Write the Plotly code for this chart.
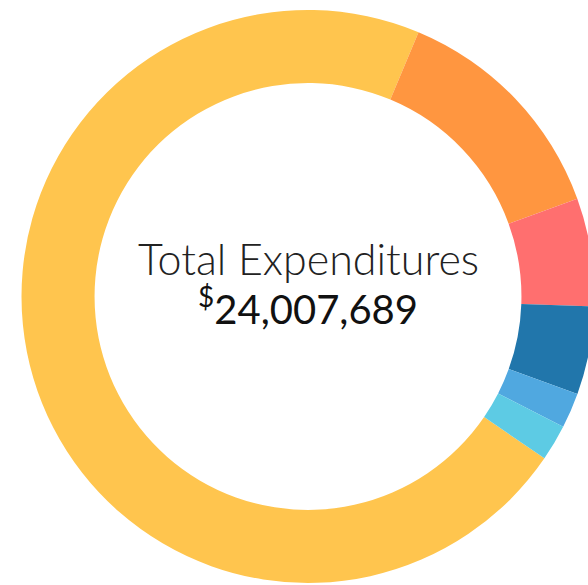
import plotly.graph_objects as go

categories = ["Category A", "Category B", "Category C", "Category D", "Category E", "Category F"]
values = [17225000, 3158000, 1464000, 1193000, 477000, 490689]
colors = ["#FFC54E", "#FF9640", "#FF6F6F", "#2176AB", "#50A8E0", "#5DCBE4"]
center_title = "Total Expenditures"
center_value = "<sup>$</sup>24,007,689"

W, H = 616, 585
fig = go.Figure(go.Pie(
    labels=categories,
    values=values,
    marker=dict(colors=colors, line=dict(width=0)),
    hole=0.745,
    sort=False,
    direction="clockwise",
    rotation=124.4,
    textinfo="none",
    hoverinfo="label+value",
    showlegend=False,
))

fig.update_layout(
    width=W, height=H, autosize=False,
    margin=dict(l=0, r=0, t=10, b=2, pad=0),
    paper_bgcolor="white", plot_bgcolor="white",
    annotations=[
        dict(text=center_title, x=0.5016, y=0.5655, xref="paper", yref="paper",
             showarrow=False, xanchor="center", yanchor="middle",
             font=dict(family="Lato", size=43, color="#222", weight=300)),
        dict(text=center_value, x=0.5, y=0.484, xref="paper", yref="paper",
             showarrow=False, xanchor="center", yanchor="middle",
             font=dict(family="Lato", size=40, color="#111", weight=400)),
    ],
)

fig.write_html("out.html", config={"displayModeBar": False},
               post_script="document.body.style.margin='0';document.body.style.overflow='hidden';document.documentElement.style.overflow='hidden';")
